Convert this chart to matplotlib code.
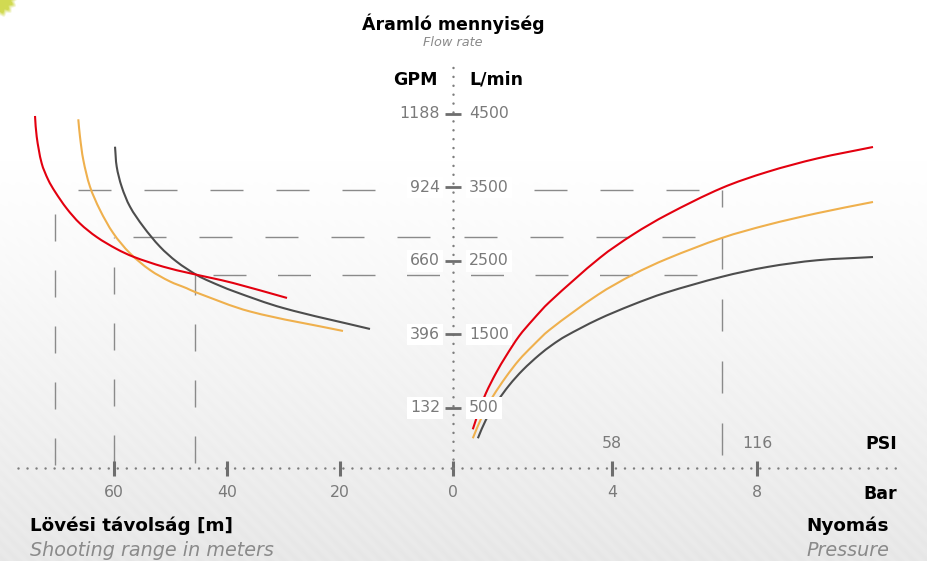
import numpy as np
import matplotlib
matplotlib.use("Agg")
import matplotlib.pyplot as plt
from matplotlib.path import Path
from matplotlib.patches import PathPatch

# ---------------- data ----------------
gpm_labels = ["1188", "924", "660", "396", "132"]
lpm_ticks = [4500, 3500, 2500, 1500, 500]
range_ticks = [60, 40, 20, 0]
bar_ticks = [4, 8]
psi_labels = ["58", "116"]

# shooting range (m) vs flow (L/min)
red_range_m = [73.98, 73.68, 72.80, 71.63, 70.44, 68.37, 66.02, 63.06, 59.52, 56.58, 51.27, 46.55, 43.01, 38.94, 29.38]
red_range_flow = [4473, 4191, 3829, 3602, 3443, 3214, 3010, 2826, 2663, 2558, 2422, 2333, 2273, 2201, 1997]
orange_range_m = [66.32, 66.02, 65.43, 64.25, 62.48, 60.12, 57.17, 53.63, 50.09, 47.13, 45.66, 35.93, 19.47]
orange_range_flow = [4428, 4191, 3874, 3511, 3194, 2877, 2605, 2377, 2221, 2129, 2078, 1813, 1548]
gray_range_m = [59.82, 59.52, 58.64, 57.17, 54.81, 51.86, 48.90, 45.36, 43.01, 38.94, 30.09, 14.69]
gray_range_flow = [4055, 3783, 3511, 3239, 2967, 2694, 2490, 2309, 2221, 2092, 1861, 1575]

# pressure (bar) vs flow (L/min)
red_bar = [0.16, 0.34, 0.52, 0.80, 1.08, 1.44, 1.81, 2.27, 3.67, 4.58, 5.52, 7.03, 8.28, 9.66, 11.20]
red_flow = [210, 473, 700, 975, 1210, 1480, 1696, 1939, 2545, 2860, 3130, 3493, 3711, 3895, 4051]
orange_bar = [0.16, 0.43, 0.71, 1.08, 1.44, 1.81, 2.27, 3.61, 4.58, 5.52, 7.03, 8.28, 9.66, 11.20]
orange_flow = [88, 400, 654, 926, 1155, 1345, 1560, 2040, 2315, 2530, 2813, 2990, 3150, 3303]
gray_bar = [0.30, 0.52, 0.80, 1.17, 1.54, 1.99, 2.36, 2.71, 3.61, 4.55, 5.46, 7.03, 8.28, 9.66, 11.20]
gray_flow = [88, 337, 564, 813, 1017, 1221, 1362, 1474, 1704, 1901, 2065, 2285, 2418, 2510, 2554]

# reference (dashed) guide values
flow_levels = [3466, 2826, 2303]
range_marks = [70.44, 60.0, 45.66]
pressure_mark = 7.03

# ---------------- layout ----------------
W, H = 928, 561
fig = plt.figure(figsize=(W / 100, H / 100), dpi=100)

# background: white fading to light grey with faint diagonal texture, lime blob top-left
yy, xx = np.mgrid[0:H, 0:W].astype(float)
t = np.clip((yy - 160) / (H - 160), 0, 1) ** 1.1
val = 1 - 0.085 * t - 0.012 * t * (0.5 + 0.5 * np.sin(2 * np.pi * (xx - yy) / 14.0))
img = np.dstack([val, val, val])
ang = np.arctan2(yy + 4, xx + 4)
d = np.sqrt((xx + 4) ** 2 + (yy + 4) ** 2)
rad = 21 + 1.2 * np.sin(ang * 17)
a = np.clip((rad - d) / 5, 0, 1)[..., None] * 0.9
lime = np.array([0.80, 0.84, 0.25])
img = img * (1 - a) + lime * a
axbg = fig.add_axes([0, 0, 1, 1], zorder=0)
axbg.imshow(img, extent=(0, W, H, 0), aspect="auto", interpolation="bilinear")
axbg.axis("off")

Y_MIN, Y_MAX = -1582, 6051
AXIS_FLOW = -316
xsplit = 453 / W
axL = fig.add_axes([0, 0, xsplit, 1], zorder=1)
axR = fig.add_axes([xsplit, 0, 1 - xsplit, 1], zorder=1)
axL.set_xlim(453 / 5.65, 0)
axR.set_xlim((453 - 467) / 36.25, (928 - 467) / 36.25)
for ax in (axL, axR):
    ax.set_ylim(Y_MIN, Y_MAX)
    ax.axis("off")
    ax.patch.set_alpha(0)

GREY = "#7a7a7a"
DASH = "#8a8a8a"
TICK = "#6e6e6e"
RED = "#e3000f"
ORANGE = "#efb04d"
DARK = "#4d4d4d"

# ---------------- dotted axes ----------------
dot = dict(color="#7d7d7d", lw=1.8, dash_capstyle="round", clip_on=False, zorder=3)
axL.plot([0, 0], [AXIS_FLOW, 5207], ls=(0, (0.01, 3.55)), **dot)
axL.plot([77.0, 0], [AXIS_FLOW, AXIS_FLOW], ls=(0, (0.01, 3.6)), **dot)
axR.plot([axR.get_xlim()[0], 11.86], [AXIS_FLOW, AXIS_FLOW], ls=(0, (0.01, 3.6)), **dot)

# thick tick marks
for v in lpm_ticks:
    axL.plot([1.42, -1.42], [v, v], color=TICK, lw=2.0, solid_capstyle="butt", clip_on=False, zorder=4)
for m in range_ticks:
    axL.plot([m, m], [-221, -425], color=TICK, lw=2.2, solid_capstyle="butt", clip_on=False, zorder=4)
for b in bar_ticks:
    axR.plot([b, b], [-221, -425], color=TICK, lw=2.2, solid_capstyle="butt", clip_on=False, zorder=4)

# ---------------- dashed guide lines ----------------
px = 72 / 100.0  # points per pixel
h_offsets_left = [43, 47, 46.5]
h_offsets_right = [51, 55, 47]
h_periods = [66, 66, 64.5]
for lvl, mk, ol, orr, per in zip(flow_levels, range_marks, h_offsets_left, h_offsets_right, h_periods):
    on = 33 * px
    off = (per - 33) * px
    axL.plot([mk, 0], [lvl, lvl], color=DASH, lw=1.0, ls=(ol * px, (on, off)), zorder=2, clip_on=False)
    axR.plot([axR.get_xlim()[0], pressure_mark], [lvl, lvl], color=DASH, lw=1.0,
             ls=(orr * px, (on, off)), zorder=2)

v_bottoms = [-275, -235, -248]
for mk, lvl, bot in zip(range_marks, flow_levels, v_bottoms):
    axL.plot([mk, mk], [bot, lvl], color=DASH, lw=1.0, ls=(0, (27 * px, 29 * px)), zorder=2)
axR.plot([pressure_mark, pressure_mark], [-139, flow_levels[0]], color=DASH, lw=1.0,
         ls=(0, (32 * px, 30 * px)), zorder=2)


# ---------------- curves (smooth Bezier through the read points) ----------------
def smooth_curve(ax, xs, ys, sx, sy, color, lw=1.5, z=5):
    P = np.column_stack([xs, ys]).astype(float)
    Q = P * np.array([sx, sy])
    seg = np.hypot(*np.diff(Q, axis=0).T)
    tt = np.concatenate([[0.0], np.cumsum(seg)])
    n = len(P)
    tang = np.zeros_like(P)
    tang[0] = (P[1] - P[0]) / (tt[1] - tt[0])
    tang[-1] = (P[-1] - P[-2]) / (tt[-1] - tt[-2])
    for i in range(1, n - 1):
        tang[i] = (P[i + 1] - P[i - 1]) / (tt[i + 1] - tt[i - 1])
    verts = [P[0]]
    codes = [Path.MOVETO]
    for i in range(n - 1):
        h = tt[i + 1] - tt[i]
        verts += [P[i] + tang[i] * h / 3, P[i + 1] - tang[i + 1] * h / 3, P[i + 1]]
        codes += [Path.CURVE4] * 3
    ax.add_patch(PathPatch(Path(verts, codes), fc="none", ec=color, lw=lw, zorder=z,
                           capstyle="butt", joinstyle="round"))


SXL, SXR, SY = 5.65, 36.25, 0.0735
smooth_curve(axL, orange_range_m, orange_range_flow, SXL, SY, ORANGE)
smooth_curve(axL, gray_range_m, gray_range_flow, SXL, SY, DARK)
smooth_curve(axL, red_range_m, red_range_flow, SXL, SY, RED, z=6)
smooth_curve(axR, gray_bar, gray_flow, SXR, SY, DARK)
smooth_curve(axR, orange_bar, orange_flow, SXR, SY, ORANGE)
smooth_curve(axR, red_bar, red_flow, SXR, SY, RED, z=6)

# ---------------- tick labels ----------------
FONT = "DejaVu Sans"
lab = dict(color=GREY, fontsize=11.3, family=FONT, va="center", zorder=7)
box = dict(boxstyle="square,pad=0.2", fc="white", ec="none")
for v, g in zip(lpm_ticks, gpm_labels):
    axL.annotate(g, xy=(0, v), xytext=(-13 * px, 0), textcoords="offset points",
                 ha="right", bbox=box, annotation_clip=False, **lab)
    axR.annotate(str(v), xy=(axR.get_xlim()[0], v), xytext=(16 * px, 0), textcoords="offset points",
                 ha="left", bbox=box, annotation_clip=False, **lab)
for m in range_ticks:
    axL.annotate(str(m), xy=(m, AXIS_FLOW), xytext=(0, -25 * px), textcoords="offset points",
                 ha="center", annotation_clip=False, **lab)
for b, p in zip(bar_ticks, psi_labels):
    axR.annotate(str(b), xy=(b, AXIS_FLOW), xytext=(0, -25 * px), textcoords="offset points",
                 ha="center", annotation_clip=False, **lab)
    axR.annotate(p, xy=(b, AXIS_FLOW), xytext=(0, 24 * px), textcoords="offset points",
                 ha="center", annotation_clip=False, **lab)


# ---------------- titles ----------------
def ft(x, y, s, **kw):
    fig.text(x / W, 1 - y / H, s, family=FONT, va="center", zorder=8, **kw)


ft(453, 24, "Áramló mennyiség", ha="center", fontsize=12.5, weight="bold", color="black")
ft(453, 43, "Flow rate", ha="center", fontsize=9.3, style="italic", color="#8a8a8a")
ft(438, 80, "GPM", ha="right", fontsize=12.5, weight="bold", color="black")
ft(469, 80, "L/min", ha="left", fontsize=12.5, weight="bold", color="black")
ft(897, 444, "PSI", ha="right", fontsize=12.5, weight="bold", color="black")
ft(897, 494, "Bar", ha="right", fontsize=12.5, weight="bold", color="black")
ft(30, 526, "Lövési távolság [m]", ha="left", fontsize=13.2, weight="bold", color="black")
ft(30, 550, "Shooting range in meters", ha="left", fontsize=13.8, style="italic", color="#8a8a8a")
ft(889, 526, "Nyomás", ha="right", fontsize=13.2, weight="bold", color="black")
ft(889, 550, "Pressure", ha="right", fontsize=13.8, style="italic", color="#8a8a8a")

fig.savefig("out.png", dpi=100)
